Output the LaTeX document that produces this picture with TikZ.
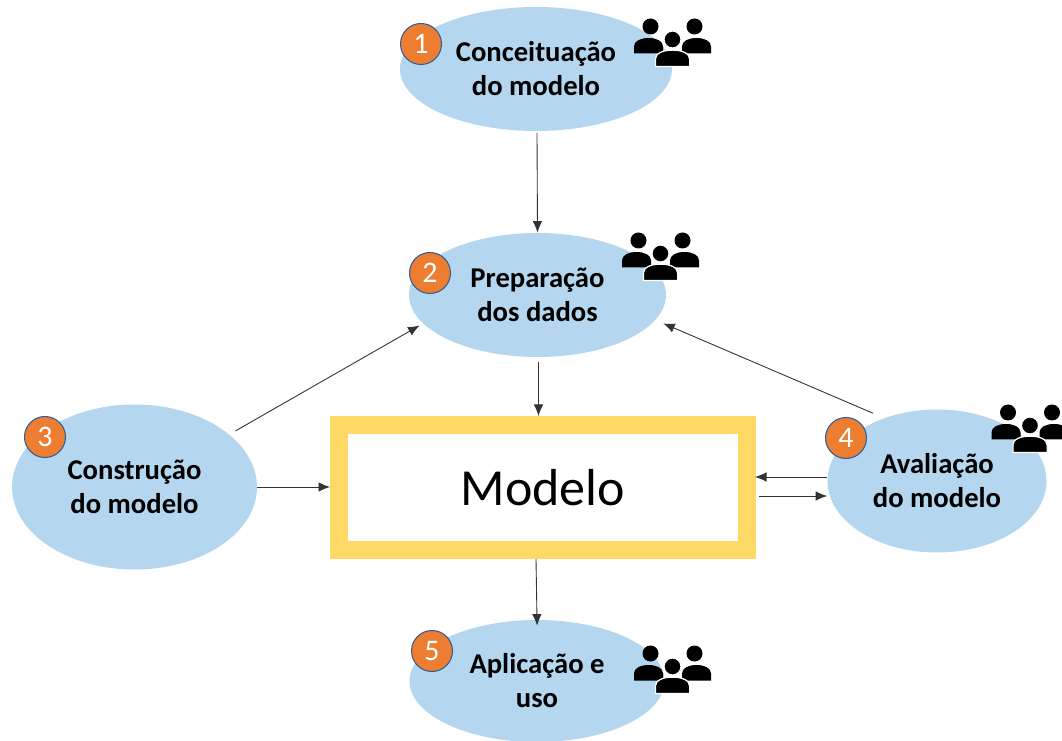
\documentclass[tikz,border=0pt]{standalone}
\usepackage{fontspec}
\setmainfont{Carlito}
\usetikzlibrary{shapes.geometric, arrows.meta}

\definecolor{fase}{HTML}{B4D6EE}
\definecolor{moldura}{HTML}{FFD966}
\definecolor{selo}{HTML}{ED7D31}
\definecolor{selob}{HTML}{2F5F9A}

\tikzset{
  fase/.style={ellipse, fill=fase, inner sep=0pt, align=center, font=\fontsize{16.3}{19.3}\selectfont\bfseries},
  selo/.style={circle, draw=selob, line width=0.6pt, fill=selo, text=white, minimum size=0.82cm, inner sep=0pt, font=\fontsize{17}{20}\selectfont},
  seta/.style={-{Latex[length=0.23cm, width=0.19cm]}, draw=black!80, line width=0.5pt},
  corpo/.pic={
    \path[pic actions] (-0.29,-0.16) -- (-0.29,-0.02) .. controls (-0.29,0.09) and (-0.16,0.15) .. (0,0.15) .. controls (0.16,0.15) and (0.29,0.09) .. (0.29,-0.02) -- (0.29,-0.16) -- cycle;
  },
  pessoas/.pic={
    \fill (-0.44,0.31) circle (0.16);
    \fill (0.44,0.31) circle (0.16);
    \pic[fill=black] at (-0.48,-0.07) {corpo};
    \pic[fill=black] at (0.48,-0.07) {corpo};
    \filldraw[draw=white, line width=0.7pt] (0,0.05) circle (0.17);
    \pic[fill=black, draw=white, line width=0.7pt, xscale=1.18, yscale=1.05] at (0,-0.32) {corpo};
  }
}

\begin{document}
\begin{tikzpicture}
\path[use as bounding box, clip] (0,0) rectangle (21.24,14.8);

\node[fase, minimum width=5.44cm, minimum height=2.48cm] (concept) at (10.72,13.42) {Conceituação\\do modelo};
\node[fase, minimum width=5.14cm, minimum height=2.48cm] (prep) at (10.75,8.9) {Preparação\\dos dados};
\node[fase, minimum width=4.9cm, minimum height=3.3cm] (constr) at (2.69,5.06) {Construção\\do modelo};
\node[fase, minimum width=4.38cm, minimum height=2.86cm] (aval) at (18.74,5.18) {Avaliação\\do modelo};
\node[fase, minimum width=5.1cm, minimum height=2.44cm] (aplic) at (10.74,1.18) {Aplicação e\\uso};

\node[draw=moldura, line width=0.36cm, fill=white, minimum width=8.16cm, minimum height=2.5cm, font=\fontsize{29.6}{32}\selectfont] (modelo) at (10.86,5.05) {Modelo};

\node[selo] (n1) at (8.42,13.92) {1};
\node[selo] (n2) at (8.6,9.34) {2};
\node[selo] (n3) at (0.9,6.06) {3};
\node[selo] (n4) at (16.92,6.04) {4};
\node[selo] (n5) at (8.64,1.78) {5};

\pic at (13.45,13.96) {pessoas};
\pic at (13.21,9.68) {pessoas};
\pic at (20.6,6.24) {pessoas};
\pic at (13.45,1.42) {pessoas};

\coordinate (e1) at (10.74,12.14);
\coordinate (e2) at (10.77,7.56);
\coordinate (e3) at (15.1,5.26);
\coordinate (e4) at (15.18,4.88);

\draw[seta] (e1) -- (prep.north);
\draw[seta] (e2) -- (modelo.north -| e2);
\draw[seta, shorten <=0.14cm, shorten >=0.08cm] (constr.29) -- (prep.194);
\draw[seta, shorten <=0.24cm, shorten >=0.17cm] (aval.130) -- (prep.-12);
\draw[seta] (constr.east) -- (constr.east -| modelo.west);
\draw[seta] (aval.west |- e3) -- (e3);
\draw[seta] (e4) -- (aval.west |- e4);
\draw[seta, shorten >=-0.12cm] (modelo.south) ++(-0.14,0) -- (aplic.north);
\end{tikzpicture}
\end{document}
